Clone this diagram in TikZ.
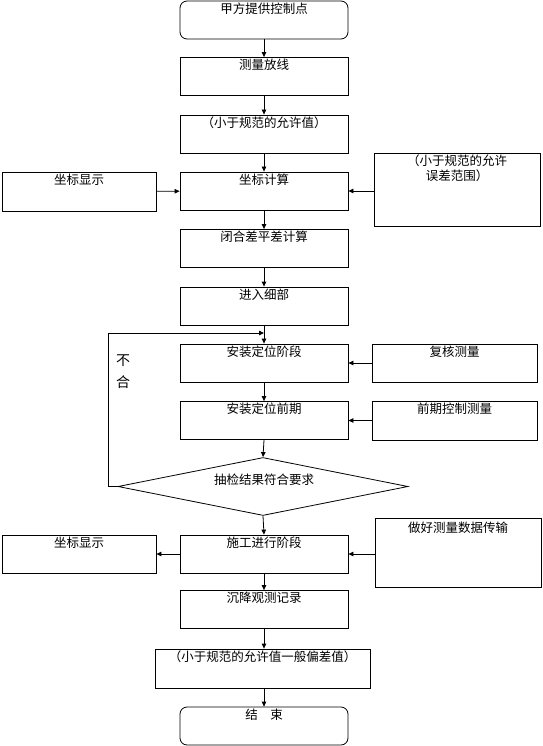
\documentclass[tikz,border=0pt]{standalone}
\usepackage{fontspec}
\newfontfamily\cjk{Noto Sans CJK SC}
\usetikzlibrary{arrows.meta,shapes.geometric}
\begin{document}
\begin{tikzpicture}[x=1pt,y=-1pt,
  box/.style={draw,line width=0.8pt,inner sep=0pt,minimum width=168pt,minimum height=38pt},
  rbox/.style={box,rounded corners=7pt},
  txt/.style={font=\cjk\fontsize{12.5}{15}\selectfont,inner sep=0pt,anchor=north,align=center},
  arr/.style={-{Triangle[length=5pt,width=4.5pt]},line width=0.8pt},
  ln/.style={line width=0.8pt}]
\useasboundingbox (0,0) rectangle (542,746);
\fill[white] (0,0) rectangle (542,746);

% main column
\node[rbox] (n1) at (264,20) {};
\node[box] (n2) at (264,76.5) {};
\node[box] (n3) at (264,134) {};
\node[box] (n4) at (264,191) {};
\node[box] (n5) at (264,248.5) {};
\node[box] (n6) at (264,306) {};
\node[box] (n7) at (264,363) {};
\node[box] (n8) at (264,420.5) {};
\node[draw,line width=0.8pt,shape=diamond,inner sep=0pt,minimum width=290pt,minimum height=58pt] (d) at (263,486.5) {};
\node[box] (n9) at (264,554) {};
\node[box] (n10) at (264,609.5) {};
\node[box,minimum width=215pt,minimum height=39pt] (n11) at (262.5,668.5) {};
\node[rbox] (n12) at (264,726) {};

% side boxes
\node[box,minimum width=154pt,minimum height=39pt] (l4) at (79,191.5) {};
\node[box,minimum width=166pt,minimum height=73pt] (r4) at (457,189.5) {};
\node[box,minimum width=165pt] (r7) at (454.5,363) {};
\node[box,minimum width=165pt,minimum height=39pt] (r8) at (454.5,420.5) {};
\node[box,minimum width=154pt] (l9) at (79,554) {};
\node[box,minimum width=166pt,minimum height=69pt] (r9) at (458,552.5) {};

% texts
\node[txt] (t1) at ([yshift=-2pt]n1.north) {甲方提供控制点};
\node[txt] (t2) at ([yshift=-2pt]n2.north) {测量放线};
\node[txt] (t3) at ([yshift=-2pt]n3.north) {（小于规范的允许值）};
\node[txt] (t4) at ([yshift=-2pt]n4.north) {坐标计算};
\node[txt] (tl4) at ([yshift=-2pt]l4.north) {坐标显示};
\node[txt] (tr4) at ([yshift=-2pt]r4.north) {（小于规范的允许\\误差范围）};
\node[txt] (t5) at ([yshift=-2pt]n5.north) {闭合差平差计算};
\node[txt] (t6) at ([yshift=-2pt]n6.north) {进入细部};
\node[txt] (t7) at ([yshift=-2pt]n7.north) {安装定位阶段};
\node[txt] (tr7) at ([yshift=-2pt]r7.north) {复核测量};
\node[txt] (t8) at ([yshift=-2pt]n8.north) {安装定位前期};
\node[txt] (tr8) at ([yshift=-2pt]r8.north) {前期控制测量};
\node[txt,anchor=center] (td) at (264,480) {抽检结果符合要求};
\node[txt] (t9) at ([yshift=-2pt]n9.north) {施工进行阶段};
\node[txt] (tl9) at ([yshift=-2pt]l9.north) {坐标显示};
\node[txt] (tr9) at ([yshift=-4pt]r9.north) {做好测量数据传输};
\node[txt] (t10) at ([yshift=-2pt]n10.north) {沉降观测记录};
\node[txt] (t11) at ([yshift=-2pt]n11.north) {（小于规范的允许值一般偏差值）};
\node[txt] (t12) at ([yshift=-2pt]n12.north) {结\quad 束};
\node[font=\cjk\fontsize{14}{22}\selectfont,inner sep=0pt,align=center] (tn) at (123,372) {不\\合};

% connectors
\draw[arr] (n1) -- (n2);
\draw[arr] (n2) -- (n3);
\draw[arr] (n3) -- (n4);
\draw[arr] (l4) -- (n4);
\draw[arr] (r4.west |- n4.east) -- (n4.east);
\draw[arr] (n4) -- (n5);
\draw[arr] (n5) -- (n6);
\draw[arr] (n6) -- (n7);
\draw[arr] (r7) -- (n7);
\draw[arr] (n7) -- (n8);
\draw[arr] (r8) -- (n8);
\draw[arr] (n8.south) -- (d.north);
\draw[arr] (d.south) -- (n9.north);
\coordinate (lc) at (108,333);
\coordinate (lp) at (264,333);
\draw[arr] (d.west) -| (lc) -- (lp);
\draw[arr] (n9) -- (l9);
\draw[arr] (r9.west |- n9.east) -- (n9.east);
\draw[arr] (n9) -- (n10);
\draw[arr] (n10) -- (n11.north -| n10.south);
\draw[arr] (n11.south -| n12.north) -- (n12);
\end{tikzpicture}
\end{document}
